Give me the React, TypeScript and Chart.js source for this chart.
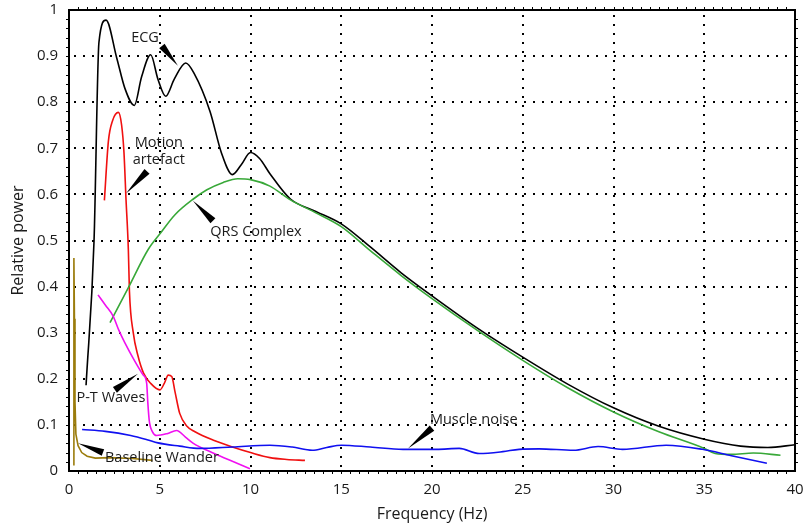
import React, { useEffect, useRef } from "react";
import { Chart, registerables } from "chart.js";

Chart.register(...registerables);

type P = { x: number; y: number };

const xTickValues = [0, 5, 10, 15, 20, 25, 30, 35, 40];
const xTickLabels = ["0", "5", "10", "15", "20", "25", "30", "35", "40"];
const yTickValues = [0, 0.1, 0.2, 0.3, 0.4, 0.5, 0.6, 0.7, 0.8, 0.9, 1];
const yTickLabels = ["0", "0.1", "0.2", "0.3", "0.4", "0.5", "0.6", "0.7", "0.8", "0.9", "1"];

const ecg: P[] = [
  { x: 0.94, y: 0.186 }, { x: 1.38, y: 0.5 }, { x: 1.65, y: 0.93 }, { x: 2.04, y: 0.978 },
  { x: 2.63, y: 0.896 }, { x: 3.08, y: 0.83 }, { x: 3.6, y: 0.793 }, { x: 4.0, y: 0.855 },
  { x: 4.5, y: 0.903 }, { x: 4.9, y: 0.85 }, { x: 5.33, y: 0.813 }, { x: 5.8, y: 0.85 },
  { x: 6.43, y: 0.885 }, { x: 6.9, y: 0.862 }, { x: 7.77, y: 0.78 }, { x: 8.4, y: 0.69 },
  { x: 9.0, y: 0.643 }, { x: 9.5, y: 0.665 }, { x: 10.0, y: 0.691 }, { x: 10.5, y: 0.678 },
  { x: 11.07, y: 0.645 }, { x: 12.2, y: 0.59 }, { x: 13.6, y: 0.563 }, { x: 15.0, y: 0.536 },
  { x: 16.6, y: 0.486 }, { x: 18.3, y: 0.43 }, { x: 20, y: 0.38 }, { x: 22.5, y: 0.31 },
  { x: 25, y: 0.247 }, { x: 27.5, y: 0.188 }, { x: 30, y: 0.137 }, { x: 32.5, y: 0.097 },
  { x: 35, y: 0.069 }, { x: 37, y: 0.054 }, { x: 38.5, y: 0.051 }, { x: 40, y: 0.057 },
];

const qrs: P[] = [
  { x: 2.26, y: 0.322 }, { x: 3.3, y: 0.4 }, { x: 4.37, y: 0.481 }, { x: 5.0, y: 0.514 },
  { x: 5.84, y: 0.556 }, { x: 6.85, y: 0.59 }, { x: 7.6, y: 0.61 }, { x: 8.5, y: 0.626 },
  { x: 9.3, y: 0.634 }, { x: 10.0, y: 0.632 }, { x: 11.07, y: 0.618 }, { x: 12.2, y: 0.588 },
  { x: 13.6, y: 0.56 }, { x: 15.0, y: 0.53 }, { x: 16.6, y: 0.478 }, { x: 18.3, y: 0.424 },
  { x: 20, y: 0.374 }, { x: 22.5, y: 0.305 }, { x: 25, y: 0.24 }, { x: 27.5, y: 0.18 },
  { x: 30, y: 0.128 }, { x: 32.5, y: 0.085 }, { x: 35, y: 0.049 }, { x: 35.6, y: 0.038 },
  { x: 36.5, y: 0.036 }, { x: 37.7, y: 0.039 }, { x: 39.2, y: 0.034 },
];

const motion: P[] = [
  { x: 1.95, y: 0.587 }, { x: 2.17, y: 0.715 }, { x: 2.4, y: 0.76 }, { x: 2.72, y: 0.778 },
  { x: 2.9, y: 0.75 }, { x: 3.03, y: 0.69 }, { x: 3.14, y: 0.59 }, { x: 3.27, y: 0.48 },
  { x: 3.33, y: 0.39 }, { x: 3.54, y: 0.3 }, { x: 3.8, y: 0.25 }, { x: 4.1, y: 0.213 },
  { x: 4.5, y: 0.19 }, { x: 5.01, y: 0.176 }, { x: 5.25, y: 0.19 }, { x: 5.47, y: 0.208 },
  { x: 5.66, y: 0.205 }, { x: 5.85, y: 0.17 }, { x: 6.1, y: 0.125 }, { x: 6.5, y: 0.097 },
  { x: 6.94, y: 0.085 }, { x: 8.0, y: 0.066 }, { x: 9.0, y: 0.052 }, { x: 10.0, y: 0.04 },
  { x: 11.07, y: 0.029 }, { x: 12.0, y: 0.025 }, { x: 13.0, y: 0.023 },
];

const ptWaves: P[] = [
  { x: 1.6, y: 0.382 }, { x: 2.0, y: 0.36 }, { x: 2.43, y: 0.336 }, { x: 2.75, y: 0.305 },
  { x: 3.08, y: 0.278 }, { x: 3.6, y: 0.24 }, { x: 4.09, y: 0.208 }, { x: 4.28, y: 0.19 },
  { x: 4.34, y: 0.15 }, { x: 4.42, y: 0.11 }, { x: 4.6, y: 0.085 }, { x: 4.83, y: 0.077 },
  { x: 5.4, y: 0.081 }, { x: 5.93, y: 0.088 }, { x: 6.4, y: 0.074 }, { x: 6.85, y: 0.06 },
  { x: 8.0, y: 0.038 }, { x: 9.0, y: 0.021 }, { x: 9.97, y: 0.005 },
];

const muscle: P[] = [
  { x: 0.72, y: 0.09 }, { x: 2.0, y: 0.086 }, { x: 3.4, y: 0.077 }, { x: 4.3, y: 0.068 },
  { x: 4.9, y: 0.061 }, { x: 6.1, y: 0.054 }, { x: 7.2, y: 0.049 }, { x: 9.0, y: 0.052 },
  { x: 11.07, y: 0.056 }, { x: 12.3, y: 0.052 }, { x: 13.4, y: 0.045 }, { x: 14.2, y: 0.051 },
  { x: 15.0, y: 0.056 }, { x: 16.6, y: 0.052 }, { x: 18.4, y: 0.047 }, { x: 20.25, y: 0.047 },
  { x: 21.5, y: 0.049 }, { x: 22.6, y: 0.038 }, { x: 23.9, y: 0.042 }, { x: 24.8, y: 0.047 },
  { x: 25.9, y: 0.048 }, { x: 27.8, y: 0.045 }, { x: 29.15, y: 0.053 }, { x: 30.5, y: 0.047 },
  { x: 32.9, y: 0.056 }, { x: 34.9, y: 0.047 }, { x: 36.5, y: 0.033 }, { x: 38.45, y: 0.017 },
];

const baseline: P[] = [
  { x: 0.27, y: 0.012 }, { x: 0.27, y: 0.462 }, { x: 0.3, y: 0.33 }, { x: 0.33, y: 0.15 },
  { x: 0.38, y: 0.08 }, { x: 0.5, y: 0.055 }, { x: 0.7, y: 0.04 }, { x: 1.0, y: 0.032 },
  { x: 1.45, y: 0.028 }, { x: 2.25, y: 0.029 }, { x: 3.5, y: 0.027 }, { x: 4.6, y: 0.023 },
];

const labelTexts = ["ECG", "Motion\nartefact", "QRS Complex", "P-T Waves", "Baseline Wander", "Muscle noise"];
const labelX = [4.19, 4.95, 10.3, 2.31, 5.12, 22.3];
const labelY = [0.94, 0.693, 0.519, 0.158, 0.029, 0.11];
const pointerFromX = [5.12, 4.3, 7.93, 2.53, 1.87, 20.0];
const pointerFromY = [0.922, 0.65, 0.543, 0.176, 0.04, 0.093];
const pointerToX = [6.0, 3.14, 6.83, 3.8, 0.5, 18.68];
const pointerToY = [0.879, 0.602, 0.586, 0.211, 0.06, 0.049];

const FONT = "'Open Sans', 'DejaVu Sans', sans-serif";
const TEXT = "#1a1a1a";

const framePlugin = {
  id: "frameGrid",
  beforeDatasetsDraw(chart: any) {
    const { ctx, chartArea: a, scales } = chart;
    const xs = scales.x;
    const ys = scales.y;
    ctx.save();
    ctx.fillStyle = "#000";
    for (const v of xTickValues) {
      if (v <= 0 || v >= 40) continue;
      const px = Math.round(xs.getPixelForValue(v));
      for (let py = a.top + 6; py < a.bottom - 1; py += 9) ctx.fillRect(px - 1, py - 1, 2, 2);
    }
    for (const v of yTickValues) {
      if (v <= 0 || v >= 1) continue;
      const py = Math.round(ys.getPixelForValue(v));
      for (let px = a.left + 6; px < a.right - 1; px += 9) ctx.fillRect(px - 1, py - 1, 2, 2);
    }
    ctx.restore();
  },
  afterDatasetsDraw(chart: any) {
    const { ctx, chartArea: a, scales } = chart;
    const xs = scales.x;
    const ys = scales.y;
    ctx.save();
    ctx.strokeStyle = "#000";
    ctx.lineWidth = 2;
    ctx.strokeRect(a.left, a.top, a.right - a.left, a.bottom - a.top);
    ctx.lineWidth = 1;
    ctx.beginPath();
    for (let v = 0.5; v < 40; v += 0.5) {
      const px = Math.round(xs.getPixelForValue(v)) + 0.5;
      ctx.moveTo(px, a.bottom); ctx.lineTo(px, a.bottom + 3);
      ctx.moveTo(px, a.top); ctx.lineTo(px, a.top - 3);
    }
    for (let i = 1; i < 50; i++) {
      const py = Math.round(ys.getPixelForValue(i * 0.02)) + 0.5;
      ctx.moveTo(a.left, py); ctx.lineTo(a.left - 3, py);
      ctx.moveTo(a.right, py); ctx.lineTo(a.right + 3, py);
    }
    ctx.stroke();

    ctx.fillStyle = "#000";
    for (let i = 0; i < labelTexts.length; i++) {
      const fx = xs.getPixelForValue(pointerFromX[i]);
      const fy = ys.getPixelForValue(pointerFromY[i]);
      const tx = xs.getPixelForValue(pointerToX[i]);
      const ty = ys.getPixelForValue(pointerToY[i]);
      const dx = tx - fx, dy = ty - fy;
      const len = Math.hypot(dx, dy) || 1;
      const nx = -dy / len, ny = dx / len;
      const hw = 3.5;
      ctx.beginPath();
      ctx.moveTo(fx + nx * hw, fy + ny * hw);
      ctx.lineTo(fx - nx * hw, fy - ny * hw);
      ctx.lineTo(tx, ty);
      ctx.closePath();
      ctx.fill();
    }
    ctx.fillStyle = TEXT;
    ctx.font = `14.5px ${FONT}`;
    ctx.textAlign = "center";
    ctx.textBaseline = "middle";
    for (let i = 0; i < labelTexts.length; i++) {
      const cx = xs.getPixelForValue(labelX[i]);
      const cy = ys.getPixelForValue(labelY[i]);
      const lines = labelTexts[i].split("\n");
      const lh = 17;
      lines.forEach((ln, j) => {
        ctx.fillText(ln, cx, cy + (j - (lines.length - 1) / 2) * lh);
      });
    }
    ctx.restore();
  },
};

function ds(label: string, data: P[], color: string, tension = 0.35) {
  return {
    label,
    data,
    borderColor: color,
    backgroundColor: color,
    borderWidth: 1.6,
    pointRadius: 0,
    fill: false,
    tension,
    cubicInterpolationMode: tension > 0 ? ("monotone" as const) : ("default" as const),
  };
}

export default function App() {
  const ref = useRef<HTMLCanvasElement | null>(null);
  useEffect(() => {
    document.body.style.margin = "0";
    const canvas = ref.current!;
    const chart = new Chart(canvas, {
      type: "line",
      data: {
        datasets: [
          ds("Baseline Wander", baseline, "#9b7c0c", 0),
          ds("Muscle noise", muscle, "#1010f0"),
          ds("P-T Waves", ptWaves, "#f010f0"),
          ds("QRS Complex", qrs, "#38a838"),
          ds("Motion artefact", motion, "#f01010"),
          ds("ECG", ecg, "#000000"),
        ],
      },
      options: {
        responsive: false,
        animation: false,
        devicePixelRatio: 1,
        layout: { padding: { top: 10, right: 9, left: 0, bottom: 0 } },
        plugins: { legend: { display: false }, tooltip: { enabled: false } },
        scales: {
          x: {
            type: "linear",
            min: 0,
            max: 40,
            afterBuildTicks: (s: any) => {
              s.ticks = xTickValues.map((v) => ({ value: v }));
            },
            afterFit: (s: any) => {
              s.height = 56;
              s.paddingLeft = 0;
              s.paddingRight = 0;
            },
            grid: { display: false, drawTicks: false },
            border: { display: false },
            ticks: {
              padding: 10,
              maxRotation: 0,
              autoSkip: false,
              color: TEXT,
              font: { family: FONT, size: 15 },
              callback: (_v: any, i: number) => xTickLabels[i],
            },
            title: {
              display: true,
              text: "Frequency (Hz)",
              color: TEXT,
              font: { family: FONT, size: 16 },
              padding: { top: 0, bottom: 3 },
            },
          },
          y: {
            type: "linear",
            min: 0,
            max: 1,
            afterBuildTicks: (s: any) => {
              s.ticks = yTickValues.map((v) => ({ value: v }));
            },
            afterFit: (s: any) => {
              s.width = 69;
              s.paddingTop = 0;
              s.paddingBottom = 0;
            },
            grid: { display: false, drawTicks: false },
            border: { display: false },
            ticks: {
              padding: 11,
              autoSkip: false,
              color: TEXT,
              font: { family: FONT, size: 15 },
              callback: (_v: any, i: number) => yTickLabels[i],
            },
            title: {
              display: true,
              text: "Relative power",
              color: TEXT,
              font: { family: FONT, size: 16 },
              padding: { top: 9, bottom: 0 },
            },
          },
        },
      },
      plugins: [framePlugin],
    });
    return () => chart.destroy();
  }, []);
  return (
    <div style={{ position: "absolute", left: 0, top: 0, width: 804, height: 527, background: "#fff" }}>
      <canvas ref={ref} width={804} height={527} style={{ display: "block", width: 804, height: 527 }} />
    </div>
  );
}
